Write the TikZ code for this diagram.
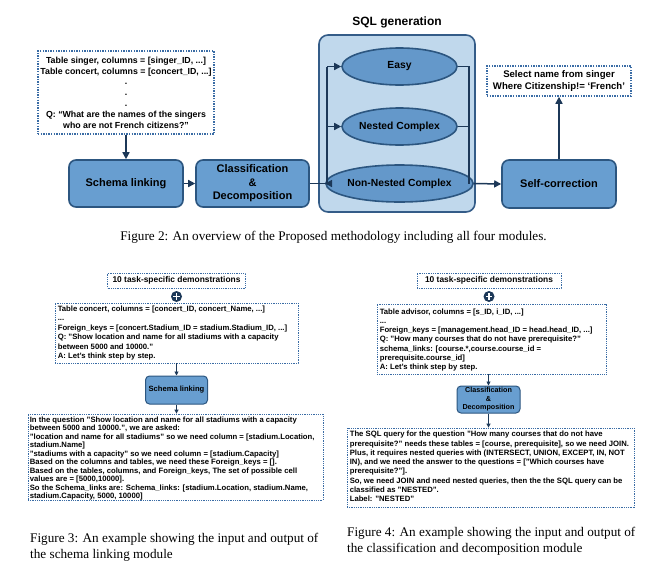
\documentclass[tikz,border=0pt]{standalone}
\usepackage{fontspec}
\setmainfont{Liberation Sans}
\newfontfamily\capfont{Liberation Serif}
\usetikzlibrary{arrows.meta,shapes.geometric}
\definecolor{boxfill}{RGB}{104,158,208}
\definecolor{boxline}{RGB}{44,86,128}
\definecolor{contfill}{RGB}{192,216,236}
\definecolor{contline}{RGB}{52,92,136}
\definecolor{ellfill}{RGB}{100,152,202}
\definecolor{arrcol}{RGB}{28,56,88}
\definecolor{dotcol}{RGB}{58,108,165}
\begin{document}
\begin{tikzpicture}[x=1pt,y=-1pt,
  modbox/.style={draw=boxline, fill=boxfill, line width=1.6pt, rounded corners=7pt, inner sep=0pt, align=center, font=\fontsize{11}{13.5}\selectfont\bfseries},
  smallbox/.style={draw=boxline, fill=boxfill, line width=1pt, rounded corners=4pt, inner sep=0pt, align=center},
  ellnode/.style={ellipse, draw=boxline, fill=ellfill, line width=1.6pt, inner sep=0pt, minimum width=115pt, minimum height=37pt, font=\fontsize{10.3}{12}\selectfont\bfseries},
  bigdot/.style={draw=dotcol, line width=1.5pt, dash pattern=on 1.4pt off 1.2pt, inner sep=0pt, align=center},
  smalldot/.style={draw=dotcol, line width=0.8pt, dash pattern=on 0.9pt off 0.9pt, inner sep=0pt, align=center},
  arr/.style={draw=arrcol, line width=1.5pt, -{Triangle[length=7pt,width=7pt]}},
  line/.style={draw=arrcol, line width=1.5pt},
  sarr/.style={draw=arrcol, line width=0.9pt, -{Triangle[length=4pt,width=4pt]}},
  btext/.style={anchor=west, inner sep=0pt, align=left},
  plusnode/.style={circle, fill=arrcol, inner sep=0pt, minimum size=11pt}
]
\useasboundingbox (0,0) rectangle (671,560);
\fill[white] (0,0) rectangle (671,560);

% ---------- Figure 2 ----------
\node[draw=contline, fill=contfill, line width=1.6pt, rounded corners=9pt, minimum width=156pt, minimum height=177pt, inner sep=0pt] (cont) at (397,123.5) {};
\node[font=\fontsize{12}{14}\selectfont\bfseries] (title) at (397,22) {SQL generation};

\node[bigdot, minimum width=176pt, minimum height=83pt, font=\fontsize{8.8}{10.8}\selectfont\bfseries] (q) at (126,92.5)
 {Table singer, columns = [singer\_ID, ...]\\Table concert, columns = [concert\_ID, ...]\\.\\.\\.\\Q: “What are the names of the singers\\who are not French citizens?”};

\node[modbox, minimum width=114pt, minimum height=47pt] (sl) at (126,183.5) {Schema linking};
\node[modbox, minimum width=113pt, minimum height=47pt] (cd) at (252.5,183.5) {Classification\\\&\\Decomposition};

\node[ellnode] (easy) at (399.5,66.5) {Easy};
\node[ellnode] (nested) at (399.5,126.5) {Nested Complex};
\node[ellnode] (nn) at (399.5,183.5) {Non-Nested Complex};

\node[modbox, minimum width=114pt, minimum height=48pt] (sc) at (559,184) {Self-correction};
\node[bigdot, minimum width=144pt, minimum height=30pt, font=\fontsize{9.6}{11.5}\selectfont\bfseries] (out) at (559,81)
 {Select name from singer\\Where Citizenship!= ‘French’};

\coordinate (lx) at (327,183.5);
\coordinate (rx) at (469,183.5);

\draw[arr] (q.south) -- (sl.north);
\draw[arr] (sl.east) -- (cd.west);
\draw[line] (cd.east) -- (lx);
\draw[line] (lx) -- (lx |- easy.west);
\draw[arr] (lx |- easy.west) -- (easy.west);
\draw[arr] (lx |- nested.west) -- (nested.west);
\draw[arr] (lx) -- (nn.west);
\draw[line] (easy.east) -| (rx);
\draw[line] (nested.east) -- (nested.east -| rx);
\draw[arr] (nn.east) -- (sc.west);
\draw[arr] (sc.north) -- (out.south);

\node[font=\capfont\fontsize{13.2}{15.8}\selectfont] (cap2) at (333.5,237) {Figure 2: An overview of the Proposed methodology including all four modules.};

% ---------- Figure 3 ----------
\node[smalldot, minimum width=138pt, minimum height=15pt, font=\fontsize{8.4}{10}\selectfont\bfseries] (demo1) at (176.5,280.5) {10 task-specific demonstrations};
\node[plusnode] (plus1) at (176.5,296.5) {};
\draw[white, line width=1.3pt] ([xshift=-3.2pt]plus1.center) -- ([xshift=3.2pt]plus1.center);
\draw[white, line width=1.3pt] ([yshift=-3.2pt]plus1.center) -- ([yshift=3.2pt]plus1.center);

\node[smalldot, minimum width=243pt, minimum height=60pt] (in1) at (176.5,333) {};
\node[btext, font=\fontsize{7.7}{9.4}\selectfont\bfseries] (in1t) at ([xshift=3pt]in1.west)
 {Table concert, columns = [concert\_ID, concert\_Name, ...]\\...\\Foreign\_keys = [concert.Stadium\_ID = stadium.Stadium\_ID, ...]\\Q: "Show location and name for all stadiums with a capacity\\between 5000 and 10000."\\A: Let's think step by step.};

\node[smallbox, minimum width=62pt, minimum height=28pt, font=\fontsize{7.6}{9}\selectfont\bfseries] (sl1) at (176.5,390) {Schema linking};

\node[smalldot, minimum width=295pt, minimum height=86pt] (out1) at (175.5,457) {};
\node[btext, font=\fontsize{7.7}{8.55}\selectfont\bfseries] (out1t) at ([xshift=2pt,yshift=-1.5pt]out1.west)
 {In the question "Show location and name for all stadiums with a capacity\\between 5000 and 10000.", we are asked:\\"location and name for all stadiums" so we need column = [stadium.Location,\\stadium.Name]\\"stadiums with a capacity" so we need column = [stadium.Capacity]\\Based on the columns and tables, we need these Foreign\_keys = [].\\Based on the tables, columns, and Foreign\_keys, The set of possible cell\\values are = [5000,10000].\\So the Schema\_links are: Schema\_links: [stadium.Location, stadium.Name,\\stadium.Capacity, 5000, 10000]};

\draw[sarr] (in1.south -| sl1.north) -- (sl1.north);
\draw[sarr] (sl1.south) -- (out1.north -| sl1.south);

\node[btext, font=\capfont\fontsize{13.2}{15.8}\selectfont] (cap3) at (30,547) {Figure 3: An example showing the input and output of\\the schema linking module};

% ---------- Figure 4 ----------
\node[smalldot, minimum width=144pt, minimum height=15pt, font=\fontsize{8.4}{10}\selectfont\bfseries] (demo2) at (489,280.5) {10 task-specific demonstrations};
\node[plusnode] (plus2) at (489,296.5) {};
\draw[white, line width=1.3pt] ([xshift=-3.2pt]plus2.center) -- ([xshift=3.2pt]plus2.center);
\draw[white, line width=1.3pt] ([yshift=-3.2pt]plus2.center) -- ([yshift=3.2pt]plus2.center);

\node[smalldot, minimum width=229pt, minimum height=70pt] (in2) at (491.5,339) {};
\node[btext, font=\fontsize{7.7}{9.33}\selectfont\bfseries] (in2t) at ([xshift=3pt,yshift=-1pt]in2.west)
 {Table advisor, columns = [s\_ID, i\_ID, ...]\\...\\Foreign\_keys = [management.head\_ID = head.head\_ID, ...]\\Q: "How many courses that do not have prerequisite?"\\schema\_links: [course.*,course.course\_id =\\prerequisite.course\_id]\\A: Let's think step by step.};

\node[smallbox, minimum width=63pt, minimum height=27pt, font=\fontsize{7.2}{8.6}\selectfont\bfseries] (cd2) at (488.5,399.5) {Classification\\\&\\Decomposition};

\node[smalldot, minimum width=287pt, minimum height=79pt] (out2) at (490.5,467.5) {};
\node[btext, font=\fontsize{7.7}{9.3}\selectfont\bfseries] (out2t) at ([xshift=3pt,yshift=1pt]out2.west)
 {The SQL query for the question "How many courses that do not have\\prerequisite?" needs these tables = [course, prerequisite], so we need JOIN.\\Plus, it requires nested queries with (INTERSECT, UNION, EXCEPT, IN, NOT\\IN), and we need the answer to the questions = ["Which courses have\\prerequisite?"].\\So, we need JOIN and need nested queries, then the the SQL query can be\\classified as "NESTED".\\Label: "NESTED"};

\draw[sarr] (in2.south -| cd2.north) -- (cd2.north);
\draw[sarr] (cd2.south) -- (out2.north -| cd2.south);

\node[btext, font=\capfont\fontsize{13.2}{15.8}\selectfont] (cap4) at (347,541) {Figure 4: An example showing the input and output of\\the classification and decomposition module};
\end{tikzpicture}
\end{document}
